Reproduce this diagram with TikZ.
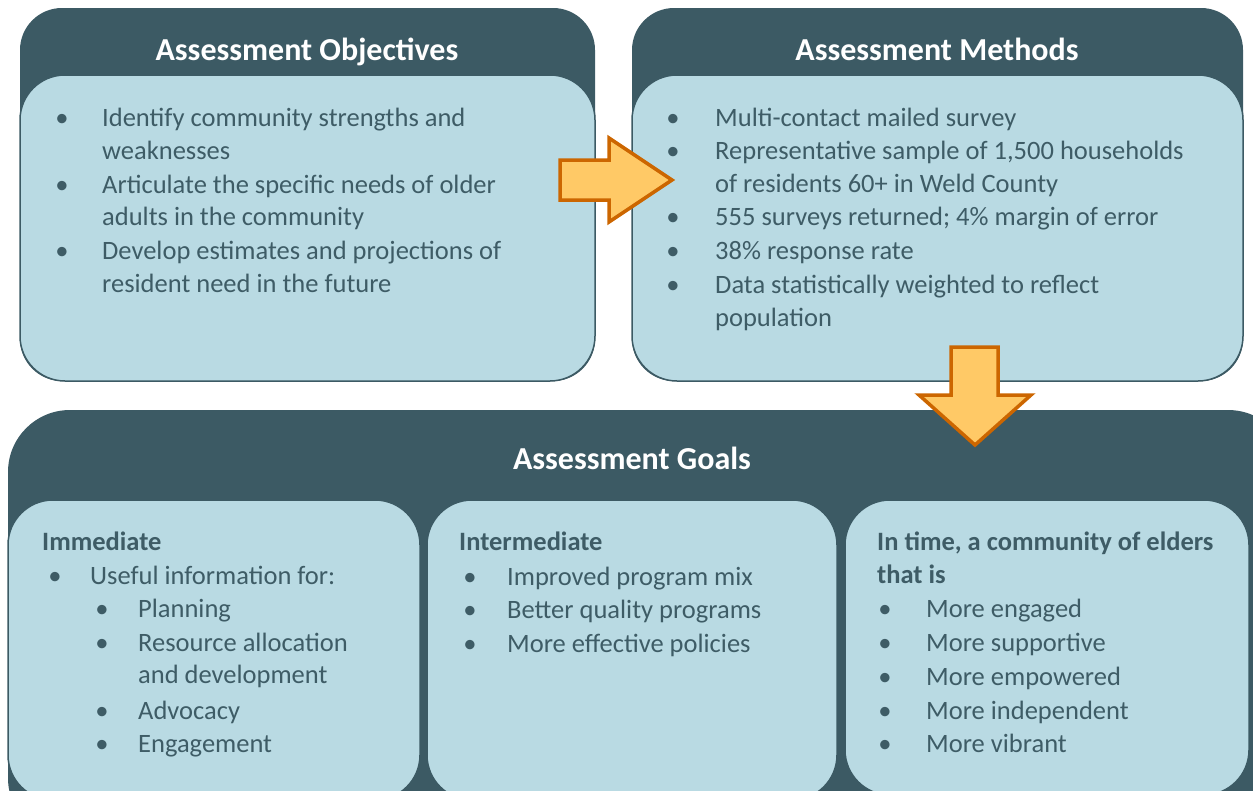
\documentclass[tikz,border=0pt]{standalone}
\usepackage{fontspec}
\setmainfont{Carlito}
\definecolor{dk}{HTML}{3C5A64}
\definecolor{lt}{HTML}{B9DAE3}
\definecolor{txt}{HTML}{3E5C66}
\definecolor{af}{HTML}{FFC966}
\definecolor{ad}{HTML}{CC6600}
\begin{document}
\begin{tikzpicture}[x=1pt,y=-1pt,
 line/.style={anchor=west,inner sep=0pt,text height=18pt,text depth=6pt,yshift=-3pt,font=\fontsize{26.5}{32}\selectfont,text=txt},
 bul/.style={line,anchor=center},
 head/.style={line,font=\fontsize{26.5}{32}\selectfont\bfseries},
 title/.style={inner sep=0pt,text height=21pt,text depth=7pt,yshift=-3pt,text=white,font=\fontsize{32}{38}\selectfont\bfseries},
 darkbox/.style={fill=dk,rounded corners=42pt},
 bigdark/.style={fill=dk,rounded corners=62pt},
 lightbox/.style={fill=lt,draw=dk,line width=1.5pt,rounded corners=45pt},
 arrowshape/.style={fill=af,draw=ad,line width=3.5pt,line join=miter}]
\useasboundingbox (0,0) rectangle (1253,790);
\clip (0,0) rectangle (1253,790);
% top-left
\fill[darkbox] (20,8) rectangle (595,381);
\draw[lightbox] (20,75) rectangle (595,381);
\node[title] (tobj) at (307,50) {Assessment Objectives};
\node[bul] (b1) at (62,117) {•};
\node[line] (o1) at (102,117) {Identify community strengths and};
\node[line] (o1b) at (102,150) {weaknesses};
\node[bul] (b2) at (62,184) {•};
\node[line] (o2) at (102,184) {Articulate the specific needs of older};
\node[line] (o2b) at (102,216) {adults in the community};
\node[bul] (b3) at (62,250) {•};
\node[line] (o3) at (102,250) {Develop estimates and projections of};
\node[line] (o3b) at (102,283) {resident need in the future};
% top-right
\fill[darkbox] (632,8) rectangle (1243,381);
\draw[lightbox] (632,75) rectangle (1243,381);
\node[title] (tmet) at (937,50) {Assessment Methods};
\node[bul] (c1) at (673,117) {•};
\node[line] (m1) at (715,117) {Multi-contact mailed survey};
\node[bul] (c2) at (673,150) {•};
\node[line] (m2) at (715,150) {Representative sample of 1,500 households};
\node[line] (m2b) at (715,183) {of residents 60+ in Weld County};
\node[bul] (c3) at (673,216) {•};
\node[line] (m3) at (715,216) {555 surveys returned; 4\% margin of error};
\node[bul] (c4) at (673,250) {•};
\node[line] (m4) at (715,250) {38\% response rate};
\node[bul] (c5) at (673,284) {•};
\node[line] (m5) at (715,284) {Data statistically weighted to reflect};
\node[line] (m5b) at (715,317) {population};
% bottom
\fill[bigdark] (8,410) rectangle (1290,840);
\node[title] (tgoal) at (632,459) {Assessment Goals};
\draw[lightbox] (8,500) rectangle (420,800);
\draw[lightbox] (427,500) rectangle (837,800);
\draw[lightbox] (845,500) rectangle (1249,795);
% box 1
\node[head] (h1) at (42,541) {Immediate};
\node[bul] (d1) at (55,575) {•};
\node[line] (i1) at (90,575) {Useful information for:};
\node[bul] (e1) at (102,608) {•};
\node[line] (s1) at (138,608) {Planning};
\node[bul] (e2) at (102,642) {•};
\node[line] (s2) at (138,642) {Resource allocation};
\node[line] (s2b) at (138,674) {and development};
\node[bul] (e3) at (102,710) {•};
\node[line] (s3) at (138,710) {Advocacy};
\node[bul] (e4) at (102,743) {•};
\node[line] (s4) at (138,743) {Engagement};
% box 2
\node[head] (h2) at (459,541) {Intermediate};
\node[bul] (f1) at (470,576) {•};
\node[line] (n1) at (507,576) {Improved program mix};
\node[bul] (f2) at (470,609) {•};
\node[line] (n2) at (507,609) {Better quality programs};
\node[bul] (f3) at (470,643) {•};
\node[line] (n3) at (507,643) {More effective policies};
% box 3
\node[head] (h3) at (877,541) {In time, a community of elders};
\node[head] (h3b) at (877,574) {that is};
\node[bul] (g1) at (885,608) {•};
\node[line] (r1) at (926,608) {More engaged};
\node[bul] (g2) at (885,642) {•};
\node[line] (r2) at (926,642) {More supportive};
\node[bul] (g3) at (885,676) {•};
\node[line] (r3) at (926,676) {More empowered};
\node[bul] (g4) at (885,710) {•};
\node[line] (r4) at (926,710) {More independent};
\node[bul] (g5) at (885,743) {•};
\node[line] (r5) at (926,743) {More vibrant};
% arrows
\draw[arrowshape] (560,160) -- (609,160) -- (609,138) -- (672,180) -- (609,222) -- (609,200) -- (560,200) -- cycle;
\draw[arrowshape] (951,347) -- (998,347) -- (998,395) -- (1031,395) -- (975,445) -- (919,395) -- (951,395) -- cycle;
\end{tikzpicture}
\end{document}
